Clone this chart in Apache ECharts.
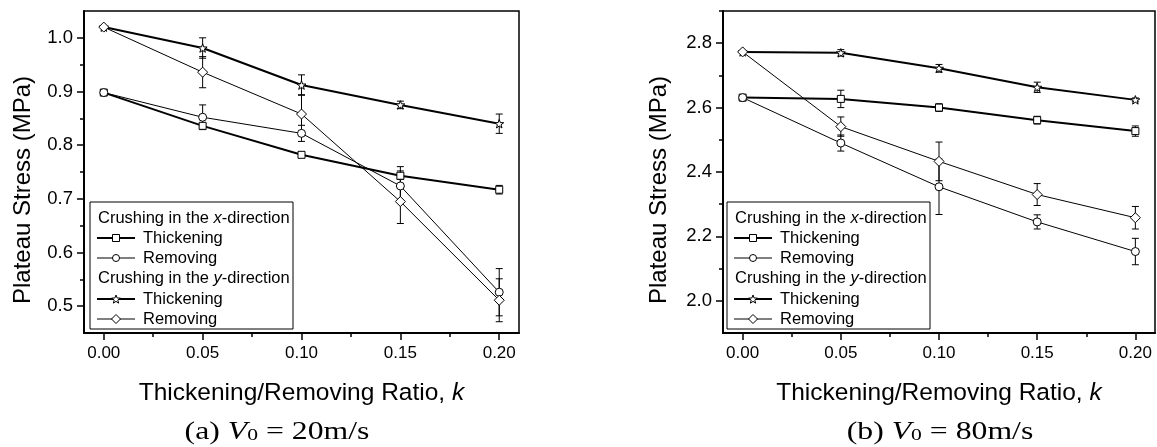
<!DOCTYPE html>
<html>
<head>
<meta charset="utf-8">
<script src="https://cdn.jsdelivr.net/npm/echarts@6/dist/echarts.min.js"></script>
<style>
html,body{margin:0;padding:0;background:#fff;}
#chart{width:1157px;height:447px;}
</style>
</head>
<body>
<div id="chart"></div>
<script>
// ---------------- data ----------------
const kValues = [0, 0.05, 0.10, 0.15, 0.20];
const xTickValues = [0, 0.05, 0.10, 0.15, 0.20];
const xMinorTicks = [0.025, 0.075, 0.125, 0.175];

const aYTicks = [0.5, 0.6, 0.7, 0.8, 0.9, 1.0];
const aYMinor = [0.55, 0.65, 0.75, 0.85, 0.95];
const bYTicks = [2.0, 2.2, 2.4, 2.6, 2.8];
const bYMinor = [2.1, 2.3, 2.5, 2.7, 2.9];

// (a) V0 = 20 m/s
const aXThick      = [0.898, 0.836, 0.782, 0.743, 0.717];
const aXThickErr   = [0, 0.004, 0.004, 0.017, 0.008];
const aXRemove     = [0.898, 0.852, 0.822, 0.724, 0.526];
const aXRemoveErr  = [0, 0.023, 0.015, 0.028, 0.044];
const aYThick      = [1.020, 0.981, 0.912, 0.875, 0.840];
const aYThickErr   = [0, 0.019, 0.019, 0.007, 0.018];
const aYRemove     = [1.020, 0.936, 0.858, 0.695, 0.511];
const aYRemoveErr  = [0, 0.029, 0.036, 0.041, 0.040];

// (b) V0 = 80 m/s
const bXThick      = [2.631, 2.627, 2.600, 2.561, 2.527];
const bXThickErr   = [0, 0.027, 0.012, 0.012, 0.016];
const bXRemove     = [2.631, 2.490, 2.354, 2.245, 2.153];
const bXRemoveErr  = [0, 0.025, 0.086, 0.022, 0.041];
const bYThick      = [2.773, 2.770, 2.722, 2.663, 2.624];
const bYThickErr   = [0, 0.010, 0.012, 0.016, 0.006];
const bYRemove     = [2.773, 2.541, 2.433, 2.330, 2.258];
const bYRemoveErr  = [0, 0.030, 0.060, 0.034, 0.035];

const yAxisTitle = 'Plateau Stress (MPa)';
const xAxisTitle = 'Thickening/Removing Ratio, {i|k}';

// ---------------- styling ----------------
const SANS = 'Liberation Sans, Arial, sans-serif';
const SERIF = 'Liberation Serif, Times New Roman, serif';
const STAR = 'path://M0,-10L2.35,-3.24L9.51,-3.09L3.8,1.24L5.88,8.09L0,4L-5.88,8.09L-3.8,1.24L-9.51,-3.09L-2.35,-3.24Z';

const grids = [
  {left: 84, top: 11, width: 435, height: 322},
  {left: 723, top: 11, width: 432, height: 322}
];

function xAxes(gi) {
  return [
    {type: 'value', gridIndex: gi, min: -0.01, max: 0.21, position: 'bottom',
     axisLine: {show: true, onZero: false, lineStyle: {color: '#000', width: 2}},
     axisTick: {show: true, length: 7, lineStyle: {color: '#000', width: 1.5}, customValues: xTickValues},
     axisLabel: {show: true, color: '#000', fontFamily: SANS, fontSize: 17, margin: 12,
                 customValues: xTickValues, formatter: v => v.toFixed(2)},
     splitLine: {show: false},
     name: xAxisTitle, nameLocation: 'middle', nameGap: 48,
     nameTextStyle: {color: '#000', fontFamily: SANS, fontSize: 24.5,
                     rich: {i: {fontStyle: 'italic', fontFamily: SANS, fontSize: 24.5, color: '#000'}}}},
    {type: 'value', gridIndex: gi, min: -0.01, max: 0.21, position: 'bottom',
     axisLine: {show: false, onZero: false},
     axisTick: {show: true, length: 4, lineStyle: {color: '#000', width: 1.5}, customValues: xMinorTicks},
     axisLabel: {show: false}, splitLine: {show: false}}
  ];
}
function yAxes(gi, min, max, ticks, minor) {
  return [
    {type: 'value', gridIndex: gi, min: min, max: max, position: 'left',
     axisLine: {show: true, onZero: false, lineStyle: {color: '#000', width: 2}},
     axisTick: {show: true, length: 7, lineStyle: {color: '#000', width: 1.5}, customValues: ticks},
     axisLabel: {show: true, color: '#000', fontFamily: SANS, fontSize: 18.5, margin: 11,
                 customValues: ticks, formatter: v => v.toFixed(1)},
     splitLine: {show: false}},
    {type: 'value', gridIndex: gi, min: min, max: max, position: 'left',
     axisLine: {show: false, onZero: false},
     axisTick: {show: true, length: 4, lineStyle: {color: '#000', width: 1.5}, customValues: minor},
     axisLabel: {show: false}, splitLine: {show: false}}
  ];
}

function lineSeries(xi, yi, vals, symbol, size, width) {
  return {
    type: 'line', xAxisIndex: xi, yAxisIndex: yi,
    data: kValues.map((k, i) => [k, vals[i]]),
    symbol: symbol, symbolSize: size, showAllSymbol: true, symbolKeepAspect: true,
    lineStyle: {color: '#000', width: width},
    itemStyle: {color: '#fff', borderColor: '#000', borderWidth: 1},
    z: 3, animation: false
  };
}
function errRender(params, api) {
  const x = api.value(0), y = api.value(1), e = api.value(2);
  if (!e) return null;
  const t = api.coord([x, y + e]), b = api.coord([x, y - e]);
  const w = 3.5;
  const st = {stroke: '#000', lineWidth: 1};
  return {type: 'group', children: [
    {type: 'line', shape: {x1: t[0], y1: t[1], x2: b[0], y2: b[1]}, style: st},
    {type: 'line', shape: {x1: t[0] - w, y1: t[1], x2: t[0] + w, y2: t[1]}, style: st},
    {type: 'line', shape: {x1: b[0] - w, y1: b[1], x2: b[0] + w, y2: b[1]}, style: st}
  ]};
}
function errSeries(xi, yi, vals, errs) {
  return {
    type: 'custom', xAxisIndex: xi, yAxisIndex: yi, renderItem: errRender,
    data: kValues.map((k, i) => [k, vals[i], errs[i]]),
    z: 2, animation: false, silent: true
  };
}

// legend built as graphic elements
function legendGraphic(gx) {
  const L = gx + 6, T = 202, W = 203, H = 127;
  const rows = [218, 238, 258, 278, 299, 319];
  const font = {fontFamily: SANS, fontSize: 16.5, fill: '#000'};
  const els = [];
  els.push({type: 'rect', shape: {x: L, y: T, width: W, height: H},
            style: {fill: '#fff', stroke: '#000', lineWidth: 1}, z: 10});
  function heading(y, axisLetter) {
    els.push({type: 'text', z: 11, style: Object.assign({
      text: 'Crushing in the {i|' + axisLetter + '}-direction', x: L + 8, y: y,
      verticalAlign: 'middle',
      rich: {i: {fontStyle: 'italic', fontFamily: SANS, fontSize: 16.5}}
    }, font)});
  }
  function item(y, label, lw, sym) {
    els.push({type: 'line', z: 11, shape: {x1: L + 7, y1: y, x2: L + 45, y2: y},
              style: {stroke: '#000', lineWidth: lw}});
    const cx = L + 26;
    const sst = {fill: '#fff', stroke: '#000', lineWidth: 1};
    if (sym === 'square') els.push({type: 'rect', z: 12, shape: {x: cx - 3.5, y: y - 3.5, width: 7, height: 7}, style: sst});
    if (sym === 'circle') els.push({type: 'circle', z: 12, shape: {cx: cx, cy: y, r: 3.5}, style: sst});
    if (sym === 'diamond') els.push({type: 'polygon', z: 12, shape: {points: [[cx, y - 4.5], [cx + 4.5, y], [cx, y + 4.5], [cx - 4.5, y]]}, style: sst});
    if (sym === 'star') {
      const pts = [];
      for (let i = 0; i < 10; i++) {
        const r = i % 2 === 0 ? 4.5 : 1.9;
        const a = -Math.PI / 2 + i * Math.PI / 5;
        pts.push([cx + r * Math.cos(a), y + 0.5 + r * Math.sin(a)]);
      }
      els.push({type: 'polygon', z: 12, shape: {points: pts}, style: sst});
    }
    els.push({type: 'text', z: 11, style: Object.assign({text: label, x: L + 53, y: y, verticalAlign: 'middle'}, font)});
  }
  heading(rows[0], 'x');
  item(rows[1], 'Thickening', 2, 'square');
  item(rows[2], 'Removing', 1, 'circle');
  heading(rows[3], 'y');
  item(rows[4], 'Thickening', 2, 'star');
  item(rows[5], 'Removing', 1, 'diamond');
  return els;
}
function yTitle(cx) {
  return {type: 'text', z: 11, x: cx, y: 190, rotation: Math.PI / 2, style: {
    text: yAxisTitle, x: 0, y: 0, align: 'center', verticalAlign: 'middle',
    fontFamily: SANS, fontSize: 24, fill: '#000'}};
}
function caption(cx, letter, speed) {
  return {type: 'text', z: 11, x: cx, y: 432, scaleX: 1.27, style: {
    text: '(' + letter + ') {i|V}{s|0} = ' + speed + 'm/s', x: 0, y: 0,
    align: 'center', verticalAlign: 'middle', fontFamily: SERIF, fontSize: 25, fill: '#000',
    rich: {i: {fontStyle: 'italic', fontFamily: SERIF, fontSize: 25},
           s: {fontFamily: SERIF, fontSize: 17, verticalAlign: 'bottom', lineHeight: 22}}
  }};
}

const option = {
  backgroundColor: '#fff',
  animation: false,
  grid: grids.map(g => Object.assign({show: true, borderColor: '#000', borderWidth: 1.5, backgroundColor: 'transparent'}, g)),
  xAxis: [].concat(xAxes(0), xAxes(1)),
  yAxis: [].concat(yAxes(0, 0.45, 1.05, aYTicks, aYMinor), yAxes(1, 1.9, 2.9, bYTicks, bYMinor)),
  series: [
    errSeries(0, 0, aXThick, aXThickErr),
    errSeries(0, 0, aXRemove, aXRemoveErr),
    errSeries(0, 0, aYThick, aYThickErr),
    errSeries(0, 0, aYRemove, aYRemoveErr),
    lineSeries(0, 0, aXThick, 'rect', 7, 2),
    lineSeries(0, 0, aXRemove, 'circle', 8, 1),
    lineSeries(0, 0, aYThick, STAR, 9, 2),
    lineSeries(0, 0, aYRemove, 'diamond', 10, 1),
    errSeries(2, 2, bXThick, bXThickErr),
    errSeries(2, 2, bXRemove, bXRemoveErr),
    errSeries(2, 2, bYThick, bYThickErr),
    errSeries(2, 2, bYRemove, bYRemoveErr),
    lineSeries(2, 2, bXThick, 'rect', 7, 2),
    lineSeries(2, 2, bXRemove, 'circle', 8, 1),
    lineSeries(2, 2, bYThick, STAR, 9, 2),
    lineSeries(2, 2, bYRemove, 'diamond', 10, 1)
  ],
  graphic: [].concat(legendGraphic(84), legendGraphic(721),
                     [yTitle(23), yTitle(659), caption(277, 'a', 20), caption(940, 'b', 80)])
};

const chart = echarts.init(document.getElementById('chart'), null, {renderer: 'canvas'});
chart.setOption(option);
</script>
</body>
</html>
